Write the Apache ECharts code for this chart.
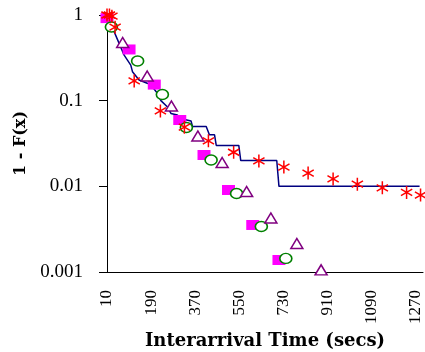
<!DOCTYPE html>
<html><head><meta charset="utf-8">
<script src="https://cdn.jsdelivr.net/npm/echarts@6/dist/echarts.min.js"></script>
<style>html,body{margin:0;padding:0;background:#fff}#c{width:425px;height:352px}</style>
</head><body><div id="c"></div>
<script>
// tick labels
const xTicks = [10, 190, 370, 550, 730, 910, 1090, 1270];
const yTicks = [0.001, 0.01, 0.1, 1];
const yTickLabels = ['0.001', '0.01', '0.1', '1'];

// empirical 1-F(x) (blue line)
const empX = [10, 30, 39, 80, 107, 114, 141, 174, 189, 215, 230, 256, 271, 297, 318, 353, 359, 415, 428, 449, 456, 548, 556, 703, 712, 1286];
const empY = [1.0, 0.76, 0.64, 0.34, 0.26, 0.218, 0.174, 0.16, 0.152, 0.123, 0.10, 0.085, 0.071, 0.068, 0.061, 0.058, 0.05, 0.05, 0.04, 0.04, 0.03, 0.03, 0.02, 0.02, 0.01, 0.01];

// red asterisks
const starX = [10, 20, 30, 43, 121, 228, 326, 424, 527, 630, 732, 831, 933, 1032, 1134, 1233, 1290];
const starY = [1.0, 1.0, 0.97, 0.72, 0.17, 0.076, 0.049, 0.034, 0.025, 0.0198, 0.0168, 0.0143, 0.0122, 0.0106, 0.0096, 0.0085, 0.0079];

// magenta squares
const sqX = [10, 100, 203, 307, 406, 506, 605, 712];
const sqY = [0.92, 0.396, 0.154, 0.0595, 0.0232, 0.00906, 0.00354, 0.00138];

// green circles
const cirX = [28, 135, 236, 334, 435, 539, 640, 740];
const cirY = [0.724, 0.29, 0.118, 0.0486, 0.0203, 0.00825, 0.0034, 0.00144];

// purple triangles
const triX = [74, 174, 273, 381, 480, 580, 679, 785, 884];
const triY = [0.478, 0.194, 0.0867, 0.0387, 0.019, 0.0087, 0.00427, 0.00215, 0.00106];

const zip = (a, b) => a.map((v, i) => [v, b[i]]);
const serif = 'Liberation Serif, Times New Roman, serif';
const titleFont = 'DejaVu Serif, Liberation Serif, serif';

const chart = echarts.init(document.getElementById('c'), null, {renderer: 'canvas'});
chart.setOption({
  animation: false,
  backgroundColor: '#fff',
  grid: {left: 107, right: 2, top: 15, bottom: 80, containLabel: false, outerBoundsMode: 'none'},
  xAxis: {
    type: 'value', min: 10, max: 1300,
    axisLine: {show: true, lineStyle: {color: '#000', width: 1}},
    axisTick: {show: false},
    splitLine: {show: false},
    axisLabel: {customValues: xTicks, rotate: 90, margin: 18, fontFamily: serif, fontSize: 17, color: '#000',
      formatter: v => String(v)},
    name: 'Interarrival Time (secs)', nameLocation: 'middle', nameGap: 58,
    nameTextStyle: {fontFamily: titleFont, fontWeight: 'bold', fontSize: 18, color: '#000'}
  },
  yAxis: {
    type: 'log', logBase: 10, min: 0.001, max: 1,
    axisLine: {show: true, lineStyle: {color: '#000', width: 1}},
    axisTick: {show: true, inside: false, length: 8, lineStyle: {color: '#000'}},
    splitLine: {show: false},
    minorTick: {show: false},
    axisLabel: {
      customValues: yTicks, margin: 24, fontFamily: serif, fontSize: 19, color: '#000',
      formatter: v => { const i = yTicks.findIndex(t => Math.abs(Math.log10(t) - Math.log10(v)) < 1e-6); return i >= 0 ? yTickLabels[i] : ''; }
    },
    name: '1 - F(x)', nameLocation: 'middle', nameGap: 78,
    nameTextStyle: {fontFamily: titleFont, fontWeight: 'bold', fontSize: 16, color: '#000'}
  },
  series: [
    {type: 'line', data: zip(empX, empY), showSymbol: false, symbol: 'none',
     lineStyle: {color: '#000080', width: 1.5}, z: 2},
    {type: 'scatter', data: zip(sqX, sqY), symbol: 'rect', symbolSize: [13, 10],
     itemStyle: {color: '#ff00ff', opacity: 1}, z: 3},
    {type: 'scatter', data: zip(cirX, cirY), symbol: 'circle', symbolSize: [12, 10],
     itemStyle: {color: '#ffffff', borderColor: '#008000', borderWidth: 1.5, opacity: 1}, z: 3},
    {type: 'scatter', data: zip(triX, triY), symbol: 'triangle', symbolSize: [12, 10],
     itemStyle: {color: '#ffffff', borderColor: '#800080', borderWidth: 1.5, opacity: 1}, z: 3},
    {type: 'scatter', data: zip(starX, starY),
     symbol: 'path://M0,-10 L0,10 M-8.66,-5 L8.66,5 M-8.66,5 L8.66,-5', symbolKeepAspect: true, symbolSize: 13,
     itemStyle: {color: 'rgba(0,0,0,0)', borderColor: '#ff0000', borderWidth: 1.5, opacity: 1}, z: 4}
  ]
});
</script></body></html>
